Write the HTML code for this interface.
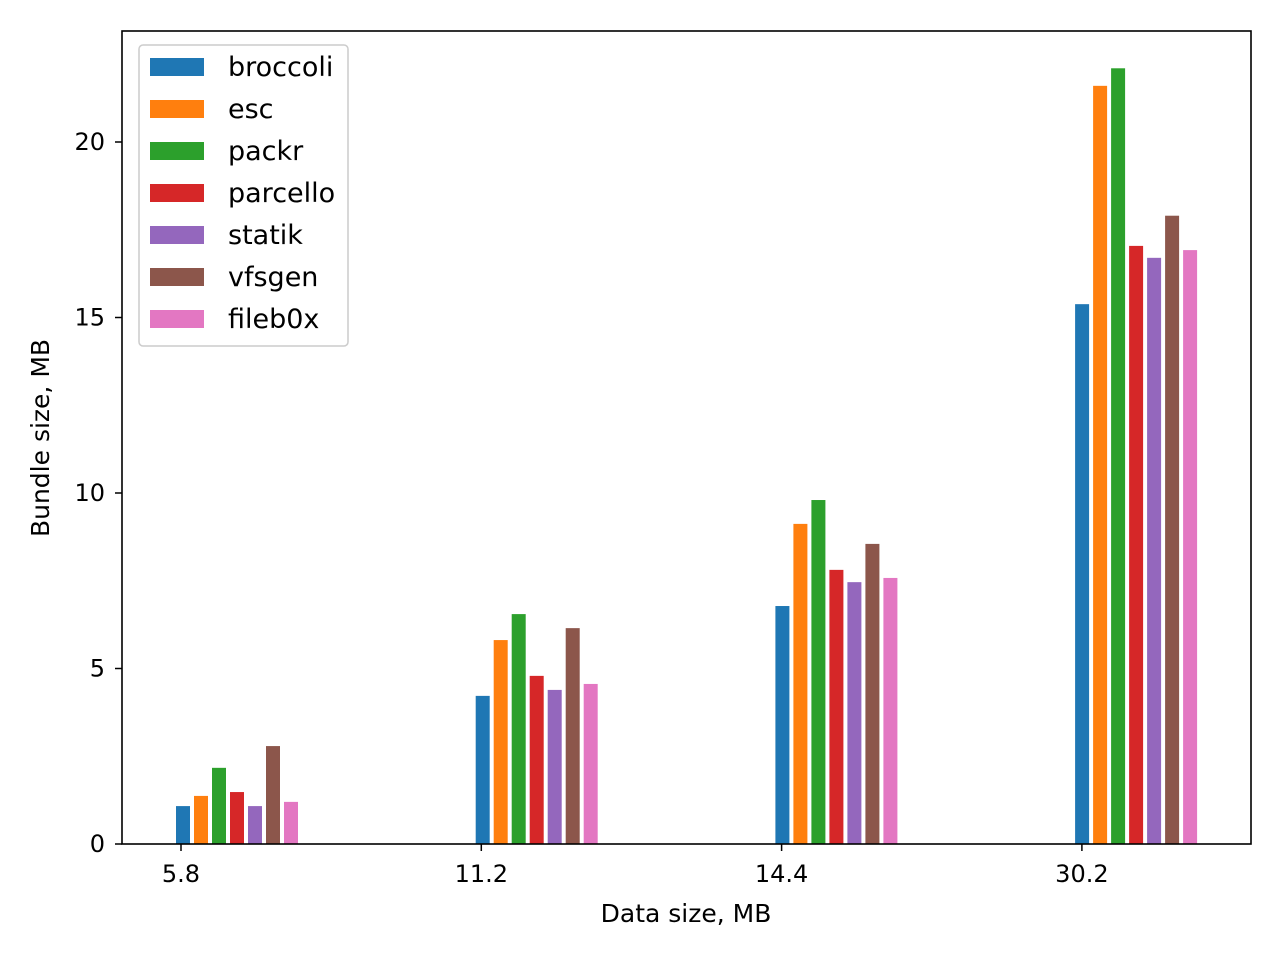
<!DOCTYPE html>
<html><head><meta charset="utf-8"><style>
body{margin:0;background:#fff}
svg text{font-family:"DejaVu Sans","Liberation Sans",sans-serif;fill:#000}
</style></head><body>
<svg id="chart" width="1280" height="960" xmlns="http://www.w3.org/2000/svg">
<rect width="1280" height="960" fill="#fff"/>
<g id="bars"></g>
<rect x="122" y="31" width="1129" height="813" fill="none" stroke="#000" stroke-width="1.6"/>
<g id="axes"></g>
<text x="686" y="922" font-size="25" text-anchor="middle">Data size, MB</text>
<text transform="translate(49,438) rotate(-90)" font-size="25" text-anchor="middle">Bundle size, MB</text>
<g id="legend"></g>
</svg>
<script>
const categories=["5.8","11.2","14.4","30.2"];
const seriesNames=["broccoli","esc","packr","parcello","statik","vfsgen","fileb0x"];
const broccoli=[1.08,4.22,6.78,15.38];
const esc=[1.37,5.81,9.12,21.6];
const packr=[2.17,6.55,9.8,22.1];
const parcello=[1.48,4.79,7.81,17.04];
const statik=[1.08,4.39,7.46,16.7];
const vfsgen=[2.79,6.15,8.55,17.9];
const fileb0x=[1.2,4.56,7.58,16.92];
const yTicks=[0,5,10,15,20];
const seriesValues=[broccoli,esc,packr,parcello,statik,vfsgen,fileb0x];
const colors=["#1f77b4","#ff7f0e","#2ca02c","#d62728","#9467bd","#8c564b","#e377c2"];
const NS="http://www.w3.org/2000/svg";
const y=v=>844-v*35.1;
const xTick=i=>181+i*300.3;
const barX=(i,s)=>xTick(i)-5-0.6*i+18*s;
function mk(tag,attrs,parent){const e=document.createElementNS(NS,tag);for(const k in attrs)e.setAttribute(k,attrs[k]);parent.appendChild(e);return e;}
const bars=document.getElementById('bars');
seriesValues.forEach((vals,s)=>{vals.forEach((v,i)=>{
 const r=mk('rect',{x:barX(i,s),y:y(v),width:14,height:844-y(v),fill:colors[s]},bars);
 
 
});});
const axes=document.getElementById('axes');
categories.forEach((c,i)=>{
 const l=mk('line',{x1:xTick(i),x2:xTick(i),y1:844,y2:851,stroke:'#000','stroke-width':1.5},axes);
 
 
 const t=mk('text',{x:xTick(i),y:882,'font-size':24,'text-anchor':'middle'},axes);t.textContent=c;
 
 
});
yTicks.forEach(v=>{
 const l=mk('line',{x1:115,x2:122,y1:y(v),y2:y(v),stroke:'#000','stroke-width':1.5},axes);
 
 
 const t=mk('text',{x:105,y:y(v)+8,'font-size':24,'text-anchor':'end'},axes);t.textContent=v;
 
 
});
const lg=document.getElementById('legend');


mk('rect',{x:139,y:45,width:209,height:301,rx:4,fill:'#fff','fill-opacity':0.8,stroke:'#ccc','stroke-width':1.5},lg);
seriesNames.forEach((n,s)=>{
 const g=mk('g',{},lg);
 
 
 const cy=67+42*s;
 mk('rect',{x:150,y:cy-9,width:54,height:18,fill:colors[s]},g);
 const t=mk('text',{x:228,y:cy+9,'font-size':27},g);t.textContent=n;
});
</script>
</body></html>
